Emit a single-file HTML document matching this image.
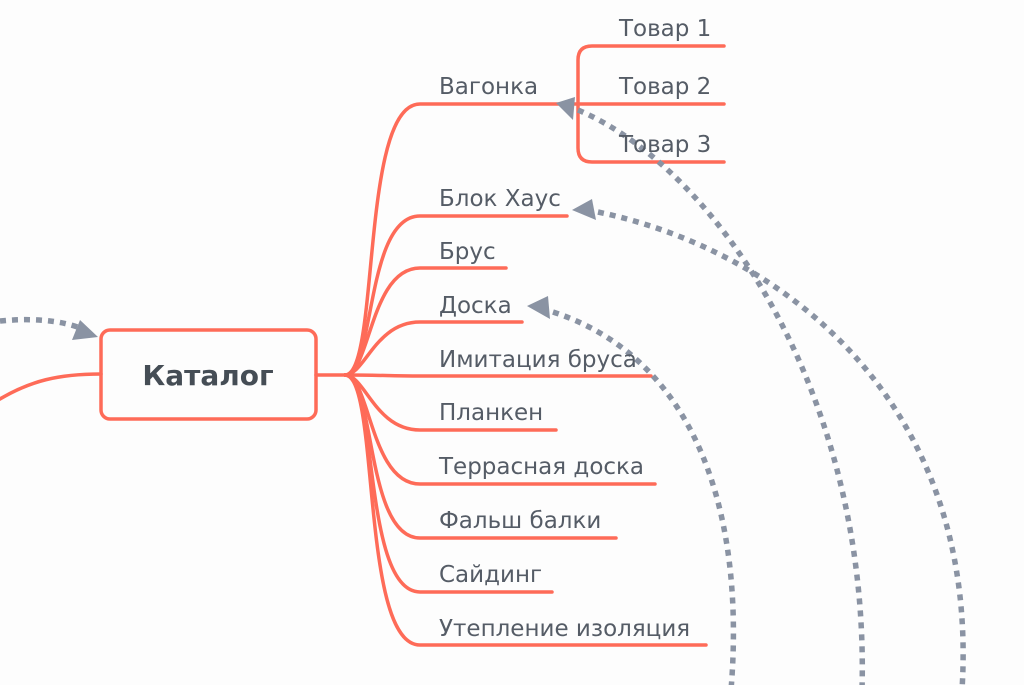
<!DOCTYPE html>
<html><head><meta charset="utf-8"><style>
html,body{margin:0;padding:0;background:#fdfdfd;}
svg{display:block}
text{font-family:"DejaVu Sans","Liberation Sans",sans-serif;fill:#555c66;font-size:23px}
</style></head><body>
<svg width="1024" height="685" viewBox="0 0 1024 685" xmlns="http://www.w3.org/2000/svg">
<g fill="none" stroke="#fe6b58" stroke-width="3.5" stroke-linecap="round">
<path d="M-5,402 C30,380 60,374 101,374"/>
<rect x="101" y="330" width="215" height="89" rx="9"/>
<path d="M316,375 L345,375"/>
<path d="M345,375 C380,375 360,104 420,104 L560,104"/>
<path d="M345,375 C375,375 365,216 420,216 L567,216"/>
<path d="M345,375 C370,375 370,268 420,268 L506,268"/>
<path d="M345,375 C365,375 375,322 420,322 L522,322"/>
<path d="M345,375 C380,375 390,376 420,376 L651,376"/>
<path d="M345,375 C365,375 375,430 420,430 L556,430"/>
<path d="M345,375 C370,375 370,484 420,484 L655,484"/>
<path d="M345,375 C375,375 365,538 420,538 L616,538"/>
<path d="M345,375 C378,375 362,592 420,592 L552,592"/>
<path d="M345,375 C380,375 360,645 420,645 L706,645"/>
<path d="M560,104 L578,104"/>
<path d="M724,46 L592,46 Q578,46 578,60 L578,148 Q578,162 592,162 L724,162"/>
<path d="M578,104 L724,104"/>
</g>
<g fill="none" stroke="#8a93a3" stroke-width="5.5" stroke-dasharray="6 6">
<path d="M0,321 C30,318 60,320 80,328"/>
<path d="M578,110 C720,170 870,400 862,690"/>
<path d="M598,212 C780,250 980,400 962,690"/>
<path d="M553,312 C700,360 745,520 731,690"/>
</g>
<g fill="#8a93a3">
<polygon points="98,337 72,340 80,320"/>
<polygon points="556,103 575,97 573,120"/>
<polygon points="572,210 592,199 596,220"/>
<polygon points="527,306 548,296 550,319"/>
</g>
<text x="208" y="385" text-anchor="middle" style="font-size:28px;font-weight:bold;fill:#454d55">Каталог</text>
<text x="439" y="94">Вагонка</text>
<text x="439" y="206">Блок Хаус</text>
<text x="439" y="259">Брус</text>
<text x="439" y="313">Доска</text>
<text x="439" y="367">Имитация бруса</text>
<text x="439" y="420">Планкен</text>
<text x="439" y="474">Террасная доска</text>
<text x="439" y="528">Фальш балки</text>
<text x="439" y="582">Сайдинг</text>
<text x="439" y="636">Утепление изоляция</text>
<text x="619" y="36">Товар 1</text>
<text x="619" y="94">Товар 2</text>
<text x="619" y="152">Товар 3</text>
</svg>
</body></html>
